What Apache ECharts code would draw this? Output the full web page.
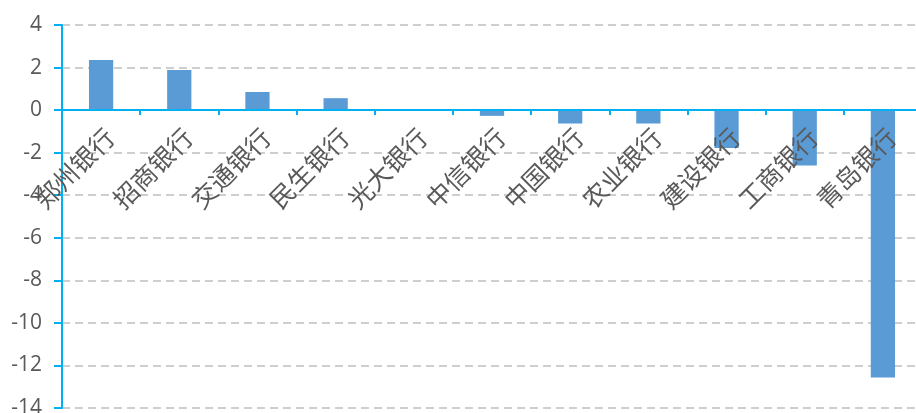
<!DOCTYPE html>
<html>
<head>
<meta charset="utf-8">
<script src="https://cdn.jsdelivr.net/npm/echarts@6/dist/echarts.min.js"></script>
<style>
  html, body { margin: 0; padding: 0; background: #fff; }
  #chart { width: 916px; height: 413px; }
</style>
</head>
<body>
<div id="chart"></div>
<script>
const banks = ["郑州银行", "招商银行", "交通银行", "民生银行", "光大银行", "中信银行", "中国银行", "农业银行", "建设银行", "工商银行", "青岛银行"]
const values = [2.35, 1.88, 0.85, 0.56, 0, -0.27, -0.63, -0.63, -1.78, -2.6, -12.57]

const axisBlue = "#00B0F0"
const textGrey = "#595959"

// grid spans -14..4 over 383px; the category axis sits on the zero line
const gridTop = 25
const gridHeight = 383
const zeroOffset = -(gridHeight * 14 / 18)

const chart = echarts.init(document.getElementById("chart"))
chart.setOption({
  animation: false,
  grid: { left: 62, top: gridTop, height: gridHeight, width: 860, outerBoundsMode: "none", containLabel: false },
  xAxis: {
    type: "category",
    data: banks,
    offset: zeroOffset,
    z: 5, // labels are drawn over the bars in the original
    axisLine: { onZero: false, lineStyle: { color: axisBlue, width: 2 } },
    axisTick: { show: true, length: 5, lineStyle: { color: axisBlue, width: 2 } },
    axisLabel: {
      rotate: 45,
      interval: 0,
      margin: 14,
      verticalAlign: "top",
      color: textGrey,
      fontSize: 25,
      fontFamily: "Noto Sans CJK SC",
    },
    splitLine: { show: false },
  },
  yAxis: {
    type: "value",
    min: -14,
    max: 4,
    interval: 2,
    axisLine: { show: true, lineStyle: { color: axisBlue, width: 2 } },
    axisTick: { show: true, length: 8, lineStyle: { color: axisBlue, width: 2 } },
    axisLabel: { color: textGrey, fontSize: 21, margin: 20, fontFamily: "Open Sans" },
    splitLine: { lineStyle: { color: "#BFBFBF", width: 1.5, type: [8, 5] } },
  },
  series: [
    {
      type: "bar",
      data: values,
      barWidth: "31%",
      itemStyle: { color: "#5B9BD5" },
    },
  ],
})
</script>
</body>
</html>
